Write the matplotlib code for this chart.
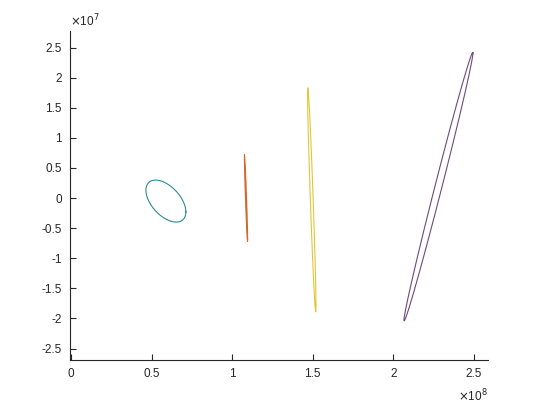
import numpy as np
import matplotlib
matplotlib.use("Agg")
import matplotlib.pyplot as plt

plt.rcParams['font.family'] = ['Liberation Sans', 'DejaVu Sans']

# orbit ellipses: centre, half range in x / y, phase between x and y (deg)
names = ['a', 'b', 'c', 'd']
cx = [0.589e8, 1.086e8, 1.494e8, 2.280e8]
cy = [-0.05e7, 0.0, -0.03e7, 0.19e7]
rx = [0.124e8, 0.010e8, 0.026e8, 0.214e8]
ry = [0.349e7, 0.72e7, 1.86e7, 2.23e7]
phase = [121, 160, 160, 6]
colors = ['#2f8a94', '#d0692a', '#e2c53a', '#6e4a78']

xticks = [0, 0.5, 1, 1.5, 2, 2.5]
yticks = [-2.5, -2, -1.5, -1, -0.5, 0, 0.5, 1, 1.5, 2, 2.5]

fig = plt.figure(figsize=(5.4, 4.05), dpi=100)
ax = fig.add_axes([0.1296, 0.111, 0.774, 0.8125])

t = np.linspace(0, 2 * np.pi, 400)
for i in range(len(names)):
    d = np.deg2rad(phase[i])
    x = cx[i] + rx[i] * np.cos(t)
    y = cy[i] + ry[i] * np.cos(t - d)
    ax.plot(x, y, color=colors[i], lw=0.8)

ax.set_xlim(-0.006e8, 2.587e8)
ax.set_ylim(-2.69e7, 2.775e7)
ax.set_xticks([v * 1e8 for v in xticks])
ax.set_xticklabels([f'{v:g}' for v in xticks])
ax.set_yticks([v * 1e7 for v in yticks])
ax.set_yticklabels([f'{v:g}' for v in yticks])

for s in ['top', 'right']:
    ax.spines[s].set_visible(False)
for s in ['left', 'bottom']:
    ax.spines[s].set_color('#262626')
    ax.spines[s].set_linewidth(0.8)
ax.tick_params(direction='in', length=4, width=0.8, colors='#262626',
               labelsize=8.5, pad=6)

ax.text(0.0, 1.005, r'$\times$10$^{7}$', transform=ax.transAxes,
        ha='left', va='bottom', fontsize=8.5, color='#262626')
ax.text(1.0, -0.085, r'$\times$10$^{8}$', transform=ax.transAxes,
        ha='right', va='top', fontsize=8.5, color='#262626')

fig.savefig('out.png', dpi=100)
